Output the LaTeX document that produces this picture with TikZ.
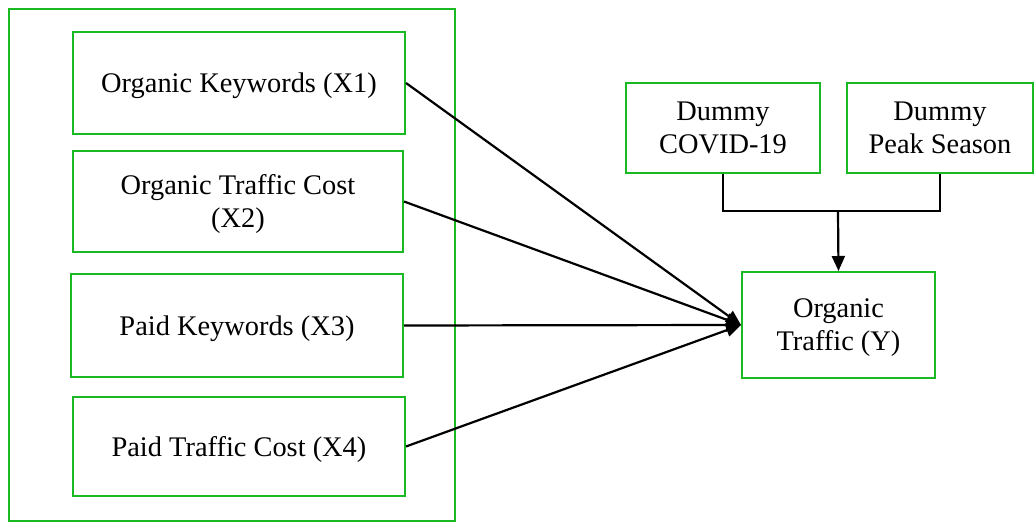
\documentclass[tikz,border=0pt]{standalone}
\usepackage{fontspec}
\setmainfont{Liberation Serif}
\usetikzlibrary{arrows.meta,calc}
\definecolor{boxgreen}{RGB}{25,185,35}
\newcommand{\varbox}[6]{%
  % left, top, right, bottom (pixels), node name, text.
  \node[greenbox, minimum width={(#3-#1)*0.5pt}, minimum height={(#4-#2)*0.5pt}]
    (#5) at ({(#1+#3)/2},{(#2+#4)/2}) {#6};
}
\begin{document}
\begin{tikzpicture}[x=0.5pt,y=-0.5pt,
  greenbox/.style={draw=boxgreen, line width=1pt, align=center, inner sep=0pt,
    text depth=0pt, font=\fontsize{14.2}{16.5}\selectfont},
  link/.style={line width=1.1pt, -{Triangle[length=7.5pt,width=6.5pt]}}]
  \useasboundingbox (0,0) rectangle (1035,523);
  % group of independent variables
  \varbox{9}{9}{455}{521}{grp}{}
  \foreach \l/\t/\r/\b/\n/\s in {
    73/32/405/134/x1/{Organic Keywords (X1)},
    73/151/403/252/x2/{Organic Traffic Cost\\(X2)},
    71/274/403/377/x3/{Paid Keywords (X3)},
    73/397/405/496/x4/{Paid Traffic Cost (X4)}}{%
    \varbox{\l}{\t}{\r}{\b}{\n}{\s}
  }
  % dummies and dependent variable
  \varbox{626}{83}{820}{173}{cov}{Dummy\\COVID-19}
  \varbox{847}{83}{1033}{173}{peak}{Dummy\\Peak Season}
  \varbox{742}{272}{935}{378}{y}{Organic\\Traffic (Y)}
  \foreach \n in {x1,x2,x3,x4}{%
    \draw[link] (\n.east) -- (y.west);
  }
  \coordinate (join) at (838,211);
  \draw[line width=1.1pt] (cov.south) |- (join) -| (peak.south);
  \draw[link] (join) -- (y.north);
\end{tikzpicture}
\end{document}
